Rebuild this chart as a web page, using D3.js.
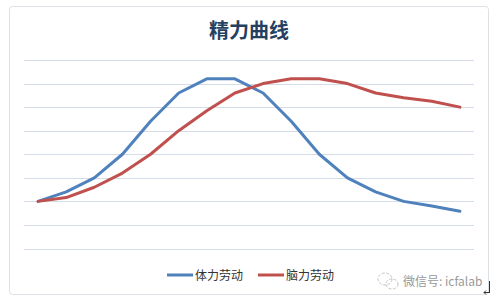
<!DOCTYPE html>
<html>
<head>
<meta charset="utf-8">
<script src="https://cdn.jsdelivr.net/npm/d3@7"></script>
<style>
  body { margin: 0; background: #fff; }
  svg { display: block; }
</style>
</head>
<body>
<div class="chart"></div>
<script>
// chart data (no axis labels shown, 0..8 grid units)
const categories = d3.range(1, 17).map(String);
const tiliValues = [2.0, 2.4, 3.0, 4.0, 5.4, 6.6, 7.2, 7.2, 6.6, 5.4, 4.0, 3.0, 2.4, 2.0, 1.8, 1.58];
const naoliValues = [2.0, 2.16, 2.6, 3.2, 4.0, 5.0, 5.85, 6.6, 7.0, 7.2, 7.2, 7.0, 6.6, 6.4, 6.25, 6.0];
const seriesNames = ["体力劳动", "脑力劳动"];
const gridTicks = d3.range(0, 9);

const width = 499, height = 303;
const blue = "#4f81bd", red = "#c0504d";

const svg = d3.select(".chart").append("svg")
    .attr("width", width).attr("height", height);

// chart area border
svg.append("rect")
    .attr("x", 9.5).attr("y", 6.5)
    .attr("width", 479).attr("height", 288)
    .attr("rx", 3)
    .attr("fill", "#fff")
    .attr("stroke", "#dde0e5");

// title
svg.append("text")
    .attr("x", 249).attr("y", 38)
    .attr("text-anchor", "middle")
    .attr("font-family", "'Noto Sans CJK SC', sans-serif")
    .attr("font-weight", "bold")
    .attr("font-size", "20px")
    .attr("fill", "#243f60")
    .text("精力曲线");

// scales
const x = d3.scaleBand().domain(categories).range([24, 474]);
const y = d3.scaleLinear().domain([0, 8]).range([248.5, 60]);

// gridlines
svg.append("g").selectAll("line").data(gridTicks).enter().append("line")
    .attr("x1", 24).attr("x2", 474)
    .attr("y1", d => Math.round(y(d)) + 0.5)
    .attr("y2", d => Math.round(y(d)) + 0.5)
    .attr("stroke", "#d5dee8")
    .attr("stroke-width", 1);

// lines
const line = d3.line()
    .x((d, i) => x(categories[i]) + x.bandwidth() / 2)
    .y(d => y(d));

[[tiliValues, blue], [naoliValues, red]].forEach(([vals, col]) => {
    svg.append("path")
        .datum(vals)
        .attr("d", line)
        .attr("fill", "none")
        .attr("stroke", col)
        .attr("stroke-width", 3)
        .attr("stroke-linejoin", "round")
        .attr("stroke-linecap", "round");
});

// legend
const legend = svg.append("g").attr("font-family", "'Noto Sans CJK SC', sans-serif");
const legendX = [167, 258];
seriesNames.forEach((name, i) => {
    legend.append("line")
        .attr("x1", legendX[i]).attr("x2", legendX[i] + 26)
        .attr("y1", 275).attr("y2", 275)
        .attr("stroke", i === 0 ? blue : red)
        .attr("stroke-width", 3);
    legend.append("text")
        .attr("x", legendX[i] + 28).attr("y", 279.5)
        .attr("font-size", "12px")
        .attr("fill", "#333")
        .text(name);
});

// watermark
const wm = svg.append("g").attr("fill", "none").attr("stroke", "#c4c4c4").attr("stroke-width", 1);
wm.append("ellipse").attr("cx", 385).attr("cy", 279).attr("rx", 7).attr("ry", 6).attr("stroke-dasharray", "3,1.5");
wm.append("ellipse").attr("cx", 392).attr("cy", 284).attr("rx", 6).attr("ry", 5).attr("stroke-dasharray", "3,1.5");
svg.append("text")
    .attr("x", 403).attr("y", 286)
    .attr("font-family", "'Noto Sans CJK SC', sans-serif")
    .attr("font-size", "12px")
    .attr("fill", "#999")
    .text("微信号: icfalab");

// paragraph mark at right edge
svg.append("path")
    .attr("d", "M489.5,281 V293 M489.5,292.5 H484 M486,290.5 L484,292.5 L486,294.5")
    .attr("fill", "none")
    .attr("stroke", "#333")
    .attr("stroke-width", 1);
</script>
</body>
</html>
